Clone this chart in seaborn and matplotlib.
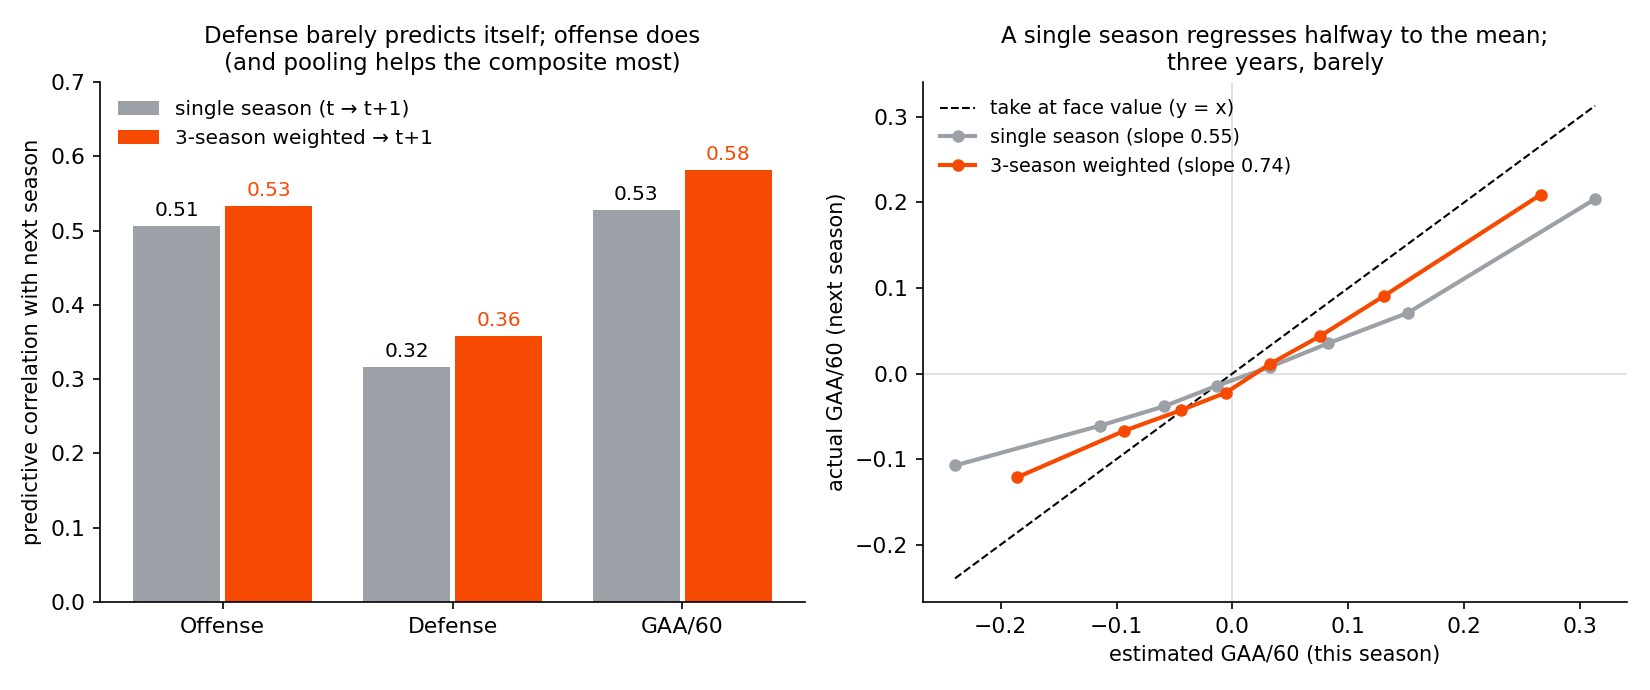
import numpy as np
import pandas as pd
import matplotlib
matplotlib.use("Agg")
import matplotlib.pyplot as plt
import seaborn as sns

# bar chart data
groups = ["Offense", "Defense", "GAA/60"]
single_corr = [0.506, 0.316, 0.528]
pooled_corr = [0.533, 0.358, 0.581]

# calibration data
single_x = [-0.2395, -0.1143, -0.0589, -0.0131, 0.0326, 0.0825, 0.1518, 0.313]
single_y = [-0.1075, -0.0610, -0.0383, -0.0141, 0.0078, 0.0352, 0.0712, 0.204]
pooled_x = [-0.1856, -0.0933, -0.0446, -0.0056, 0.0326, 0.0757, 0.1308, 0.2662]
pooled_y = [-0.1212, -0.0669, -0.0430, -0.0223, 0.0113, 0.0438, 0.0907, 0.2092]

GRAY = "#9ca0a7"
ORANGE = "#f64a03"

single_lab = "single season (t \u2192 t+1)"
pooled_lab = "3-season weighted \u2192 t+1"

bars = pd.DataFrame({
    "group": groups * 2,
    "corr": single_corr + pooled_corr,
    "kind": [single_lab] * 3 + [pooled_lab] * 3,
})

plt.rcParams["font.family"] = ["DejaVu Sans"]
plt.rcParams["font.size"] = 10

fig, (ax1, ax2) = plt.subplots(1, 2, figsize=(11, 4.6), dpi=150)
ax1.set_position([0.0606, 0.1275, 0.4273, 0.7535])
ax2.set_position([0.5594, 0.1275, 0.4267, 0.7535])

# left: predictive correlation bars
sns.barplot(data=bars, x="group", y="corr", hue="kind",
            palette=[GRAY, ORANGE], width=0.8, gap=0.05, ax=ax1, saturation=1)
for cont, col in zip(ax1.containers, ["black", ORANGE]):
    ax1.bar_label(cont, fmt="%.2f", padding=3, color=col, fontsize=9.6)
ax1.set_xlim(-0.534, 2.534)
ax1.set_ylim(0, 0.7)
ax1.set_xlabel("")
ax1.set_ylabel("predictive correlation with next season", fontsize=10)
ax1.set_title("Defense barely predicts itself; offense does\n(and pooling helps the composite most)",
              fontsize=11)
ax1.legend(loc="upper left", frameon=False, fontsize=9.7)
ax1.tick_params(labelsize=10.5)
sns.despine(ax=ax1)

# right: calibration lines
ax2.axhline(0, color="#dddddd", lw=0.8, zorder=0)
ax2.axvline(0, color="#dddddd", lw=0.8, zorder=0)
lo = min(single_x + pooled_x)
hi = max(single_x + pooled_x)
ax2.plot([lo, hi], [lo, hi], ls="--", color="black", lw=1.0, label="take at face value (y = x)")
sns.lineplot(x=single_x, y=single_y, marker="o", color=GRAY, lw=2, markersize=6,
             markeredgewidth=0, sort=False, estimator=None, ax=ax2,
             label="single season (slope 0.55)")
sns.lineplot(x=pooled_x, y=pooled_y, marker="o", color=ORANGE, lw=2, markersize=6,
             markeredgewidth=0, sort=False, estimator=None, ax=ax2,
             label="3-season weighted (slope 0.74)")
ax2.set_xlabel("estimated GAA/60 (this season)", fontsize=10)
ax2.set_ylabel("actual GAA/60 (next season)", fontsize=10)
ax2.set_title("A single season regresses halfway to the mean;\nthree years, barely", fontsize=11)
ax2.legend(loc="upper left", frameon=False, fontsize=9.2, handlelength=1.8)
ax2.tick_params(labelsize=10.5)
sns.despine(ax=ax2)

fig.savefig("out.png")
